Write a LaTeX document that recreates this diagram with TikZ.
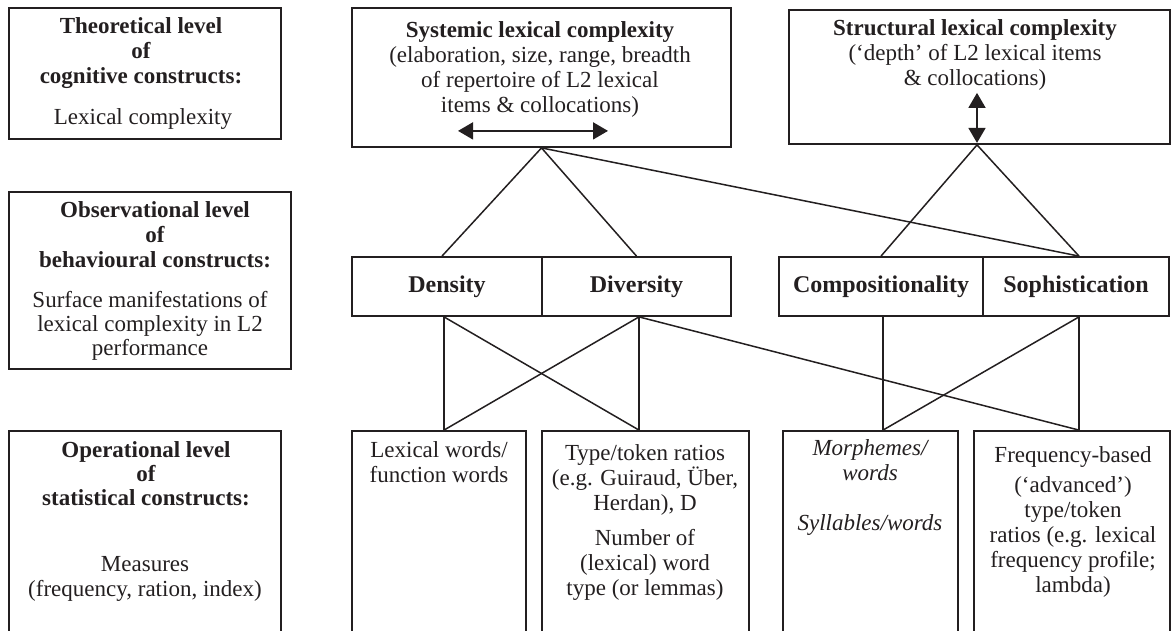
\documentclass[tikz,border=0pt]{standalone}
\usepackage{fontspec}
\setmainfont{Liberation Serif}
\usetikzlibrary{arrows.meta,calc}
\definecolor{ink}{RGB}{35,31,32}
\begin{document}
\begin{tikzpicture}[x=1pt,y=-1pt,
  box/.style={draw=ink, line width=1.8pt, inner sep=0pt, rectangle},
  head/.style={box, font=\fontsize{24}{25}\selectfont\bfseries, text=ink},
  txt/.style={font=\fontsize{23}{25}\selectfont, align=center, inner sep=0pt, text=ink},
  link/.style={draw=ink, line width=1.5pt},
  dbl/.style={draw=ink, line width=1.8pt, {Triangle[length=15pt,width=17pt]}-{Triangle[length=15pt,width=17pt]}}]
\useasboundingbox (0,0) rectangle (1172,631);
\clip (0,0) rectangle (1172,631);
% left column boxes
\node[box, minimum width=272pt, minimum height=131pt] (theo) at (145,73.5) {};
\node[box, minimum width=282pt, minimum height=177pt] (obs) at (150,280.5) {};
\node[box, minimum width=272pt, minimum height=209pt] (oper) at (145,535.5) {};
% top boxes
\node[box, minimum width=379pt, minimum height=139pt] (sys) at (541.5,77.5) {};
\node[box, minimum width=381pt, minimum height=134pt] (str) at (979.5,77) {};
% middle boxes
\node[head, minimum width=190pt, minimum height=59pt] (dens) at (447,286.5) {Density};
\node[head, minimum width=189pt, minimum height=59pt] (div) at (636.5,286.5) {Diversity};
\node[head, minimum width=204pt, minimum height=59pt] (comp) at (881,286.5) {Compositionality};
\node[head, minimum width=186pt, minimum height=59pt] (soph) at (1076,286.5) {Sophistication};
% bottom boxes
\node[box, minimum width=174pt, minimum height=209pt] (lex) at (439,535.5) {};
\node[box, minimum width=207pt, minimum height=209pt] (tt) at (645.5,535.5) {};
\node[box, minimum width=175pt, minimum height=209pt] (morph) at (870.5,535.5) {};
\node[box, minimum width=196pt, minimum height=209pt] (freq) at (1072,535.5) {};
% texts
\node[txt, anchor=north, font=\fontsize{23}{25}\selectfont\bfseries] (theoH) at (141,17) {Theoretical level\\ of\\ cognitive constructs:};
\node[txt, anchor=base] (theoS) at (143,125) {Lexical complexity};
\node[txt, anchor=north, font=\fontsize{23}{25}\selectfont\bfseries] (obsH) at (155,201) {Observational level\\ of\\ behavioural constructs:};
\node[txt, anchor=north, font=\fontsize{23}{24}\selectfont] (obsS) at (150,291) {Surface manifestations of\\ lexical complexity in L2\\ performance};
\node[txt, anchor=north, font=\fontsize{23}{24}\selectfont\bfseries] (operH) at (146,441) {Operational level\\ of\\ statistical constructs:};
\node[txt, anchor=north] (operS) at (145,556) {Measures\\ (frequency, ration, index)};
\node[txt, anchor=north] (sysT) at (540,21) {\textbf{Systemic lexical complexity}\\ (elaboration, size, range, breadth\\ of repertoire of L2 lexical\\ items \& collocations)};
\node[txt, anchor=north] (strT) at (975,19) {\textbf{Structural lexical complexity}\\ (‘depth’ of L2 lexical items\\ \& collocations)};
\node[txt, anchor=north] (lexT) at (439,441) {Lexical words/\\ function words};
\node[txt, anchor=north] (ttT) at (645,444) {Type/token ratios\\ (e.g. Guiraud, Über,\\ Herdan), D\\[10pt] Number of\\ (lexical) word\\ type (or lemmas)};
\node[txt, anchor=north, font=\fontsize{23}{25}\selectfont\itshape] (morphT) at (870,439) {Morphemes/\\ words\\[25pt] Syllables/words};
\node[txt, anchor=north] (freqT) at (1073,446) {Frequency-based\\[5pt] (‘advanced’)\\ type/token\\ ratios (e.g. lexical\\ frequency profile;\\ lambda)};
% anchor points
\coordinate (sysB) at (sys.south);
\coordinate (densTop) at ($(dens.north)+(-5,0)$);
\coordinate (divTop) at (div.north);
\coordinate (sophTop) at ($(soph.north)+(3,0)$);
\coordinate (strB) at ($(str.south)+(-2.5,0)$);
\coordinate (compTop) at (comp.north);
\coordinate (densB) at ($(dens.south)+(-3,0)$);
\coordinate (divB) at ($(div.south)+(2.5,0)$);
\coordinate (compB) at ($(comp.south)+(2,0)$);
\coordinate (sophB) at ($(soph.south)+(3,0)$);
\coordinate (lexTop) at (densB |- lex.north);
\coordinate (ttTop) at (divB |- tt.north);
\coordinate (morphTop) at (compB |- morph.north);
\coordinate (freqTop) at (sophB |- freq.north);
% connectors
\draw[link] (densTop) -- (sysB) -- (divTop);
\draw[link] (sysB) -- (sophTop);
\draw[link] (compTop) -- (strB) -- (sophTop);
\draw[link] (densB) -- (lexTop);
\draw[link] (densB) -- (ttTop);
\draw[link] (divB) -- (ttTop);
\draw[link] (divB) -- (lexTop);
\draw[link] (divB) -- (freqTop);
\draw[link] (compB) -- (morphTop);
\draw[link] (sophB) -- (freqTop);
\draw[link] (sophB) -- (morphTop);
% double arrows
\draw[dbl] ([shift={(-83.5,-17)}]sys.south) -- ([shift={(66.5,-17)}]sys.south);
\draw[dbl] ([shift={(0,-52)}]strB) -- ([shift={(0,-2)}]strB);
\end{tikzpicture}
\end{document}
